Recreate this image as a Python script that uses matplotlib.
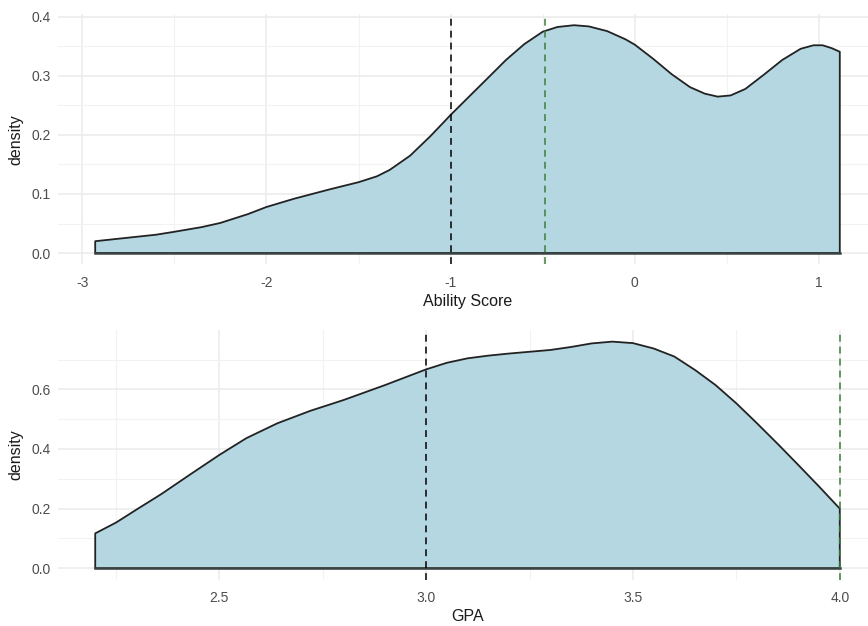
import matplotlib
matplotlib.use("Agg")
import matplotlib.pyplot as plt
import numpy as np
from matplotlib.ticker import FixedLocator

plt.rcParams['font.family'] = ['Liberation Sans', 'DejaVu Sans']

# Ability Score density
ability_x = [-2.93, -2.75, -2.6, -2.5, -2.35, -2.25, -2.1, -2.0, -1.85, -1.655, -1.5, -1.4,
             -1.33, -1.22, -1.11, -1.0, -0.9, -0.79, -0.7, -0.6, -0.5, -0.42, -0.33, -0.25,
             -0.15, -0.05, 0.0, 0.1, 0.2, 0.3, 0.38, 0.45, 0.52, 0.6, 0.7, 0.8, 0.9, 0.97,
             1.02, 1.07, 1.113]
ability_y = [0.020, 0.026, 0.031, 0.036, 0.044, 0.051, 0.066, 0.078, 0.092, 0.108, 0.120, 0.130,
             0.141, 0.165, 0.198, 0.234, 0.265, 0.299, 0.327, 0.354, 0.375, 0.383, 0.386, 0.384,
             0.376, 0.362, 0.353, 0.329, 0.303, 0.281, 0.270, 0.265, 0.267, 0.278, 0.302, 0.327,
             0.346, 0.352, 0.352, 0.347, 0.341]
ability_lines = [-1.0, -0.485]

# GPA density
gpa_x = [2.2, 2.25, 2.3, 2.36, 2.43, 2.5, 2.565, 2.64, 2.72, 2.8, 2.9, 3.0, 3.05, 3.1, 3.15,
         3.2, 3.3, 3.35, 3.4, 3.45, 3.5, 3.55, 3.6, 3.65, 3.7, 3.75, 3.8, 3.85, 3.9, 3.95, 4.0]
gpa_y = [0.117, 0.153, 0.197, 0.249, 0.315, 0.380, 0.436, 0.486, 0.528, 0.564, 0.614, 0.667,
         0.689, 0.704, 0.713, 0.720, 0.732, 0.742, 0.754, 0.760, 0.755, 0.737, 0.710, 0.665,
         0.614, 0.553, 0.486, 0.417, 0.346, 0.274, 0.200]
gpa_lines = [3.0, 4.0]

line_colors = ['black', '#3b7d3b']
fill_color = '#B4D7E2'
W, H = 868, 626
fig = plt.figure(figsize=(W / 100, H / 100), dpi=100)

def px_axes(left, top, right, bottom):
    return fig.add_axes([left / W, 1 - bottom / H, (right - left) / W, (bottom - top) / H])

def style(ax, xmaj, xmin_, ymaj, ymin_, xlabel):
    for s in ax.spines.values():
        s.set_visible(False)
    ax.set_facecolor('white')
    ax.xaxis.set_major_locator(FixedLocator(xmaj))
    ax.xaxis.set_minor_locator(FixedLocator(xmin_))
    ax.yaxis.set_major_locator(FixedLocator(ymaj))
    ax.yaxis.set_minor_locator(FixedLocator(ymin_))
    ax.grid(which='major', color='#EBEBEB', linewidth=1.1)
    ax.grid(which='minor', color='#F2F2F2', linewidth=0.8)
    ax.set_axisbelow(True)
    ax.tick_params(which='both', length=0)
    ax.tick_params(axis='x', labelsize=10, labelcolor='#4D4D4D', pad=8)
    ax.tick_params(axis='y', labelsize=10, labelcolor='#4D4D4D', pad=5)
    ax.set_xlabel(xlabel, fontsize=11.5, color='#1a1a1a', labelpad=3)
    ax.set_ylabel('density', fontsize=11.5, color='#1a1a1a', labelpad=6)

def draw(ax, x, y, vlines):
    xs = np.concatenate([[x[0]], x, [x[-1]]])
    ys = np.concatenate([[0], y, [0]])
    ax.fill(xs, ys, facecolor=fill_color, edgecolor='#222222', linewidth=1.3,
            joinstyle='round', zorder=2)
    ax.plot([x[0], x[-1]], [0, 0], color='#3a4444', linewidth=1.8, zorder=3)
    for v, c in zip(vlines, line_colors):
        ax.axvline(v, color=c, linestyle=(0, (4.5, 3.3)), linewidth=1.1, zorder=4)

ax1 = px_axes(58, 14, 877, 264.4)
draw(ax1, ability_x, ability_y, ability_lines)
ax1.set_xlim(-3.132, 1.315)
ax1.set_ylim(-0.0193, 0.405)
style(ax1, [-3, -2, -1, 0, 1], [-2.5, -1.5, -0.5, 0.5],
      [0.0, 0.1, 0.2, 0.3, 0.4], [0.05, 0.15, 0.25, 0.35], 'Ability Score')
ax1.set_xticklabels(['-3', '-2', '-1', '0', '1'])
ax1.set_yticklabels(['0.0', '0.1', '0.2', '0.3', '0.4'])

ax2 = px_axes(58, 330, 877, 579.6)
draw(ax2, gpa_x, gpa_y, gpa_lines)
ax2.set_xlim(2.11, 4.09)
ax2.set_ylim(-0.038, 0.799)
style(ax2, [2.5, 3.0, 3.5, 4.0], [2.25, 2.75, 3.25, 3.75],
      [0.0, 0.2, 0.4, 0.6], [0.1, 0.3, 0.5, 0.7], 'GPA')
ax2.set_xticklabels(['2.5', '3.0', '3.5', '4.0'])
ax2.set_yticklabels(['0.0', '0.2', '0.4', '0.6'])

fig.savefig('out.png', dpi=100)
